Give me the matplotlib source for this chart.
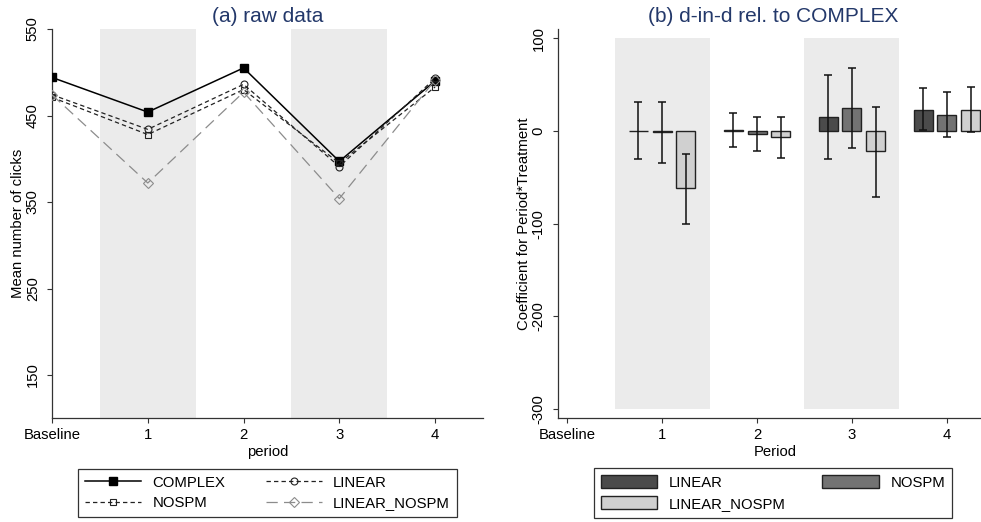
import matplotlib
matplotlib.use("Agg")
import matplotlib.pyplot as plt
from matplotlib.lines import Line2D
from matplotlib.patches import Patch
import numpy as np

# Datos
periods = ["Baseline", "1", "2", "3", "4"]

# (a) raw data: media de clicks por periodo
complex_raw = [494, 454, 505, 397, 490]
linear_raw = [474, 434, 486, 391, 493]
nospm_raw = [471, 428, 480, 395, 483]
linear_nospm_raw = [474, 372, 477, 354, 491]

# (b) d-in-d relativo a COMPLEX (periodos 1..4)
dd_periods = [1, 2, 3, 4]
dd_linear = [0, 1, 15, 23]
dd_linear_lo = [-30, -17, -30, 1]
dd_linear_hi = [31, 19, 60, 46]
dd_nospm = [-1, -3, 25, 17]
dd_nospm_lo = [-35, -22, -18, -7]
dd_nospm_hi = [31, 15, 68, 42]
dd_ln = [-62, -6, -22, 23]
dd_ln_lo = [-100, -29, -71, -1]
dd_ln_hi = [-25, 15, 26, 47]

plt.rcParams["font.family"] = ["Liberation Sans", "DejaVu Sans"]
plt.rcParams["axes.unicode_minus"] = False
FS = 10.7
TITLE_COLOR = "#23386a"
SHADE = "#ebebeb"

fig = plt.figure(figsize=(9.81, 5.22), dpi=100)
W, H = 981.0, 522.0
ax1 = fig.add_axes([52 / W, 1 - 418.3 / H, 431 / W, 389.3 / H])
ax2 = fig.add_axes([557.7 / W, 1 - 418.3 / H, 423.3 / W, 389.3 / H])


def style_axis(ax):
    for s in ["top", "right"]:
        ax.spines[s].set_visible(False)
    for s in ["left", "bottom"]:
        ax.spines[s].set_color("#333333")
        ax.spines[s].set_linewidth(0.9)
    ax.tick_params(direction="out", length=3.8, width=0.8, color="#333333",
                   labelsize=FS, pad=3.5)
    ax.tick_params(axis="y", labelrotation=90, pad=5)
    for lab in ax.get_yticklabels():
        lab.set_va("center")


# ---------- panel (a) ----------
x = np.arange(len(periods))
for lo, hi in [(0.5, 1.5), (2.5, 3.5)]:
    ax1.axvspan(lo, hi, color=SHADE, lw=0, zorder=0)

ax1.plot(x, complex_raw, color="black", lw=1.1, marker="s", ms=5.5,
         mfc="black", mec="black", zorder=3)
ax1.plot(x, linear_raw, color="#222222", lw=0.9, ls=(0, (3.5, 2.5)),
         marker="o", ms=5, mfc="none", mec="#222222", mew=0.8, zorder=3)
ax1.plot(x, nospm_raw, color="#222222", lw=0.9, ls=(0, (3.5, 2.5)),
         marker="s", ms=5, mfc="none", mec="#222222", mew=0.8, zorder=3)
ax1.plot(x, linear_nospm_raw, color="#8c8c8c", lw=0.9, ls=(0, (9, 5)),
         marker="D", ms=4.8, mfc="none", mec="#8c8c8c", mew=0.8, zorder=3)

ax1.set_xlim(0, 4.5)
ax1.set_ylim(100, 550)
ax1.set_xticks(x)
ax1.set_xticklabels(periods)
ax1.set_yticks([150, 250, 350, 450, 550])
style_axis(ax1)
ax1.set_xlabel("period", fontsize=FS)
ax1.xaxis.set_label_coords(0.5, -0.086)
ax1.xaxis.label.set_va("center")
ax1.set_ylabel("Mean number of clicks", fontsize=FS)
ax1.yaxis.set_label_coords(-0.079, 0.5)
ax1.yaxis.label.set_va("center")

# ---------- panel (b) ----------
for lo, hi in [(0.5, 1.5), (2.5, 3.5)]:
    ax2.fill_between([lo, hi], -300, 100, color=SHADE, lw=0, zorder=0)

p = np.array(dd_periods)
series = [
    (dd_linear, dd_linear_lo, dd_linear_hi, "#4b4b4b", -0.25),
    (dd_nospm, dd_nospm_lo, dd_nospm_hi, "#737373", 0.0),
    (dd_ln, dd_ln_lo, dd_ln_hi, "#d0d0d0", 0.25),
]
for vals, los, his, col, off in series:
    vals = np.array(vals)
    ax2.bar(p + off, vals, width=0.2, color=col, edgecolor="#222222",
            linewidth=1.0, zorder=2)
    err = [vals - np.array(los), np.array(his) - vals]
    ax2.errorbar(p + off, vals, yerr=err, fmt="none", ecolor="#111111",
                 elinewidth=1.1, capsize=3, capthick=1.1, zorder=3)

ax2.set_xlim(-0.1, 4.36)
ax2.set_ylim(-310, 110)
ax2.set_xticks(x)
ax2.set_xticklabels(periods)
ax2.set_yticks([-300, -200, -100, 0, 100])
style_axis(ax2)
ax2.set_xlabel("Period", fontsize=FS)
ax2.xaxis.set_label_coords(0.513, -0.086)
ax2.xaxis.label.set_va("center")
ax2.set_ylabel("Coefficient for Period*Treatment", fontsize=FS)
ax2.yaxis.set_label_coords(-0.08, 0.5)
ax2.yaxis.label.set_va("center")

# Titulos
fig.text(268 / W, 1 - 16 / H, "(a) raw data", ha="center", va="center",
         fontsize=15, color=TITLE_COLOR)
fig.text(773 / W, 1 - 16 / H, "(b) d-in-d rel. to COMPLEX", ha="center",
         va="center", fontsize=15, color=TITLE_COLOR)

# Leyendas
h_complex = Line2D([], [], color="black", lw=1.1, marker="s", ms=5.5,
                   mfc="black", mec="black")
h_linear = Line2D([], [], color="#222222", lw=0.9, ls=(0, (3.5, 2.5)),
                  marker="o", ms=5, mfc="none", mec="#222222", mew=0.8)
h_nospm = Line2D([], [], color="#222222", lw=0.9, ls=(0, (3.5, 2.5)),
                 marker="s", ms=5, mfc="none", mec="#222222", mew=0.8)
h_ln = Line2D([], [], color="#8c8c8c", lw=0.9, ls=(0, (9, 5)),
              marker="D", ms=4.8, mfc="none", mec="#8c8c8c", mew=0.8)
leg1 = fig.legend([h_complex, h_nospm, h_linear, h_ln],
                  ["COMPLEX", "NOSPM", "LINEAR", "LINEAR_NOSPM"],
                  loc="center", bbox_to_anchor=(267.5 / W, 1 - 493 / H),
                  ncol=2, fontsize=FS, frameon=True, fancybox=False,
                  edgecolor="#333333", framealpha=1, numpoints=1,
                  handlelength=3.8, handletextpad=0.75, columnspacing=2.7,
                  borderpad=0.45, labelspacing=0.45)
leg1.get_frame().set_linewidth(0.9)

b_linear = Patch(facecolor="#4b4b4b", edgecolor="#222222", lw=1.0)
b_nospm = Patch(facecolor="#737373", edgecolor="#222222", lw=1.0)
b_ln = Patch(facecolor="#d0d0d0", edgecolor="#222222", lw=1.0)
leg2 = fig.legend([b_linear, b_ln, b_nospm],
                  ["LINEAR", "LINEAR_NOSPM", "NOSPM"],
                  loc="center", bbox_to_anchor=(773 / W, 1 - 493 / H),
                  ncol=2, fontsize=FS, frameon=True, fancybox=False,
                  edgecolor="#333333", framealpha=1,
                  handlelength=3.8, handleheight=0.95, handletextpad=0.8,
                  columnspacing=2.45, borderpad=0.45, labelspacing=0.45)
leg2.get_frame().set_linewidth(0.9)

fig.savefig("out.png", dpi=100)
